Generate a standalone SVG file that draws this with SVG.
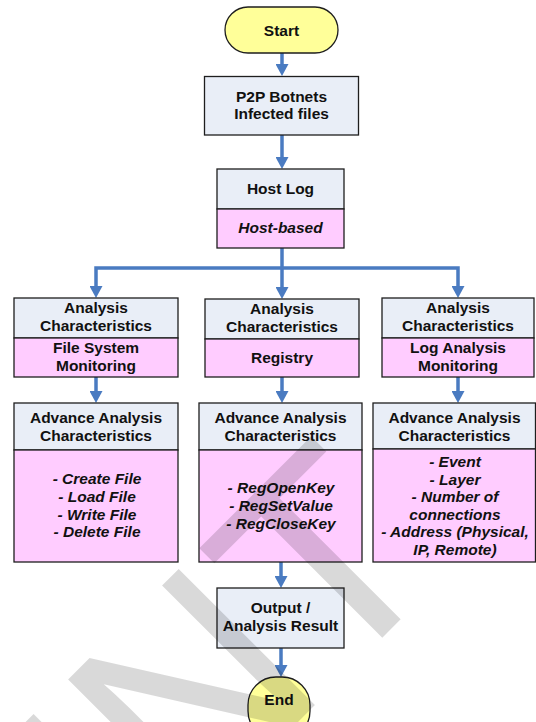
<svg xmlns="http://www.w3.org/2000/svg" width="536" height="722" viewBox="0 0 536 722">
  <defs>
    <marker id="arrow" viewBox="0 0 12 13" refX="2" refY="6.5" markerWidth="12" markerHeight="13" markerUnits="userSpaceOnUse" orient="auto">
      <path d="M0,0 L12,6.5 L0,13 z" fill="#4a7bc1"/>
    </marker>
    <style>
      .box{stroke:#1e1e1e;stroke-width:1.3}
      .hd{fill:#e9eef7}
      .pk{fill:#ffccff}
      .term{fill:#ffff99;stroke:#1e1e1e;stroke-width:1.3}
      .t{font-family:"Liberation Sans",Arial,sans-serif;font-weight:bold;font-size:15.5px;text-anchor:middle;fill:#111}
      .i{font-style:italic}
      .c{fill:none;stroke:#4a7bc1;stroke-width:3.5;marker-end:url(#arrow)}
      .wm{font-family:"Liberation Sans",Arial,sans-serif;font-size:280px;text-anchor:end;fill:#000;fill-opacity:0.15}
    </style>
  </defs>

  <rect width="536" height="722" fill="#ffffff"/>

  <!-- connectors -->
  <g id="connectors">
    <path class="c" d="M282,53 V66"/>
    <path class="c" d="M282,135 V159"/>
    <path class="c" d="M282,248 V289"/>
    <path class="c" d="M282,268 H96 V288"/>
    <path class="c" d="M282,268 H458 V288"/>
    <path class="c" d="M96,377 V393"/>
    <path class="c" d="M282,377 V393"/>
    <path class="c" d="M458,377 V393"/>
    <path class="c" d="M281,562 V578"/>
    <path class="c" d="M281,648 V667"/>
  </g>

  <g id="start">
    <rect class="term" x="225" y="7" width="113" height="46" rx="23"/>
    <text class="t" x="281.5" y="36">Start</text>
  </g>

  <g id="infected-files">
    <rect class="box hd" x="204.5" y="76.5" width="154" height="58.5"/>
    <text class="t" x="281.5" y="101.5">P2P Botnets</text>
    <text class="t" x="281.5" y="119">Infected files</text>
  </g>

  <g id="host-log">
    <rect class="box hd" x="217" y="169" width="127" height="40"/>
    <rect class="box pk" x="217" y="209" width="127" height="39"/>
    <text class="t" x="280.5" y="194">Host Log</text>
    <text class="t i" x="280.5" y="233">Host-based</text>
  </g>

  <g id="analysis-file-system">
    <rect class="box hd" x="14" y="298" width="164" height="40"/>
    <rect class="box pk" x="14" y="338" width="164" height="39"/>
    <text class="t" x="96" y="313">Analysis</text>
    <text class="t" x="96" y="330.5">Characteristics</text>
    <text class="t" x="96" y="353">File System</text>
    <text class="t" x="96" y="370.5">Monitoring</text>
  </g>

  <g id="analysis-registry">
    <rect class="box hd" x="205" y="299" width="154" height="40"/>
    <rect class="box pk" x="205" y="339" width="154" height="38"/>
    <text class="t" x="282" y="314">Analysis</text>
    <text class="t" x="282" y="332">Characteristics</text>
    <text class="t" x="282" y="363">Registry</text>
  </g>

  <g id="analysis-log">
    <rect class="box hd" x="382" y="298" width="152" height="40"/>
    <rect class="box pk" x="382" y="338" width="152" height="39"/>
    <text class="t" x="458" y="313">Analysis</text>
    <text class="t" x="458" y="330.5">Characteristics</text>
    <text class="t" x="458" y="353">Log Analysis</text>
    <text class="t" x="458" y="370.5">Monitoring</text>
  </g>

  <g id="advance-file-system">
    <rect class="box hd" x="14" y="403" width="164" height="47"/>
    <rect class="box pk" x="14" y="450" width="164" height="112"/>
    <text class="t" x="96" y="423">Advance Analysis</text>
    <text class="t" x="96" y="440.5">Characteristics</text>
    <text class="t i" x="97" y="484">- Create File</text>
    <text class="t i" x="97" y="502">- Load File</text>
    <text class="t i" x="97" y="519.5">- Write File</text>
    <text class="t i" x="97" y="537">- Delete File</text>
  </g>

  <g id="advance-registry">
    <rect class="box hd" x="199" y="403" width="163" height="47"/>
    <rect class="box pk" x="199" y="450" width="163" height="112"/>
    <text class="t" x="280.5" y="423">Advance Analysis</text>
    <text class="t" x="280.5" y="440.5">Characteristics</text>
    <text class="t i" x="281" y="493">- RegOpenKey</text>
    <text class="t i" x="281" y="511">- RegSetValue</text>
    <text class="t i" x="281" y="528.5">- RegCloseKey</text>
  </g>

  <g id="advance-log">
    <rect class="box hd" x="373" y="403" width="162.5" height="46"/>
    <rect class="box pk" x="373" y="449" width="162.5" height="113"/>
    <text class="t" x="454.5" y="423">Advance Analysis</text>
    <text class="t" x="454.5" y="440.5">Characteristics</text>
    <text class="t i" x="455" y="467">- Event</text>
    <text class="t i" x="455" y="484.5">- Layer</text>
    <text class="t i" x="455" y="502">- Number of</text>
    <text class="t i" x="455" y="519.5">connections</text>
    <text class="t i" x="455" y="537">- Address (Physical,</text>
    <text class="t i" x="455" y="554.5">IP, Remote)</text>
  </g>

  <g id="output">
    <rect class="box hd" x="217" y="588" width="127" height="60"/>
    <text class="t" x="280.5" y="613">Output /</text>
    <text class="t" x="280.5" y="631">Analysis Result</text>
  </g>

  <g id="end">
    <rect class="term" x="248" y="677" width="62" height="62" rx="28"/>
    <text class="t" x="279" y="705">End</text>
  </g>

  <!-- translucent watermark lettering across the lower half -->
  <text class="wm" transform="translate(452,568) rotate(-45)">INT</text>
</svg>
